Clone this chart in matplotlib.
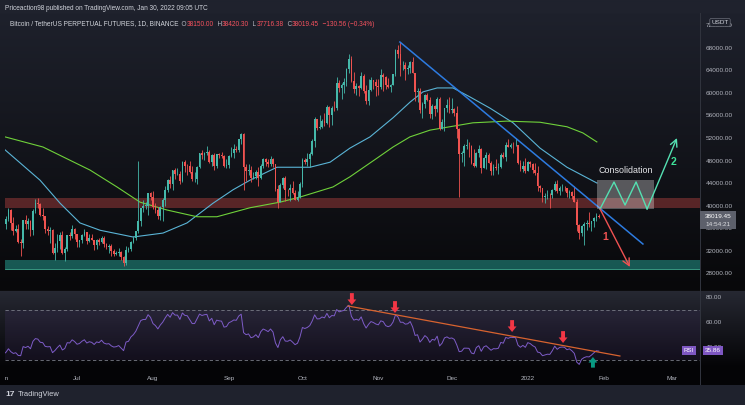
import datetime as dt
import numpy as np
import matplotlib
matplotlib.use("Agg")
import matplotlib.pyplot as plt
from matplotlib.patches import Rectangle

plt.rcParams['font.family'] = ['Liberation Sans', 'DejaVu Sans']

W, H = 745, 405
start = dt.date(2021, 6, 1)

# May 2021 closes (only used to warm up the RSI), thousands USDT
may_close = [57.8, 56.6, 57.2, 53.2, 57.5, 56.4, 57.4, 58.9, 58.3, 55.9, 56.7,
             49.2, 49.7, 49.9, 46.8, 46.4, 43.6, 42.9, 37.0, 40.7, 37.3, 37.5,
             34.7, 38.8, 38.4, 39.3, 38.5, 35.7, 34.6, 35.7, 37.3]

# daily candles (close, high, low) in thousands, open = previous close
jun = [(36.7, 37.9, 35.7), (37.6, 38.2, 35.9), (39.2, 39.5, 37.2), (36.9, 39.3, 35.6), (35.5, 37.9, 34.8),
       (35.8, 36.5, 35.3), (33.6, 36.8, 33.4), (33.4, 34.1, 31.0), (37.4, 37.5, 32.4), (36.7, 38.4, 35.8),
       (37.3, 37.7, 35.9), (35.6, 37.5, 34.6), (39.1, 39.3, 34.8), (40.5, 41.1, 38.7), (40.2, 41.3, 39.5),
       (38.3, 40.5, 38.1), (38.1, 39.6, 37.4), (35.8, 38.2, 35.1), (35.5, 36.4, 34.8), (35.6, 36.1, 33.4),
       (31.6, 35.8, 31.3), (32.5, 33.3, 30.4), (33.7, 34.9, 31.7), (34.7, 35.3, 32.3), (31.6, 35.5, 31.3),
       (32.2, 32.7, 30.2), (34.7, 34.7, 32.0), (34.5, 35.3, 33.9), (35.9, 36.6, 34.2), (35.0, 36.0, 34.1)]
jul = [(33.5, 35.0, 32.7), (33.8, 33.9, 32.7), (34.7, 34.9, 33.3), (35.3, 35.9, 34.5), (33.7, 35.3, 33.2),
       (34.2, 35.0, 33.5), (33.9, 35.0, 33.8), (32.9, 33.9, 32.1), (33.8, 34.1, 32.3), (33.5, 34.3, 33.0),
       (34.3, 34.6, 33.3), (33.1, 34.6, 32.7), (32.7, 33.3, 32.2), (32.8, 33.1, 31.6), (31.9, 33.2, 31.1),
       (31.4, 32.2, 31.0), (31.5, 32.0, 31.2), (31.8, 32.4, 31.1), (30.8, 31.9, 30.4), (29.8, 31.0, 29.3),
       (32.1, 32.8, 29.5), (32.3, 32.6, 31.7), (33.6, 33.7, 32.0), (34.3, 34.5, 33.4), (35.4, 35.4, 33.9),
       (37.3, 48.0, 35.2), (39.5, 39.6, 36.4), (40.0, 40.9, 38.8), (40.0, 40.6, 39.3), (42.2, 42.3, 38.3),
       (41.5, 42.4, 41.0)]
aug = [(39.8, 42.6, 39.4), (39.2, 40.5, 38.7), (38.2, 39.8, 37.6), (39.7, 39.9, 37.5), (40.9, 41.4, 37.3),
       (42.8, 43.4, 39.9), (44.6, 44.7, 42.4), (43.8, 45.3, 43.2), (46.3, 46.4, 42.8), (45.6, 46.7, 44.8),
       (45.6, 46.7, 45.4), (44.4, 46.2, 43.8), (47.8, 47.9, 44.2), (47.1, 48.1, 45.9), (47.0, 47.4, 45.5),
       (45.9, 48.0, 45.7), (44.7, 47.1, 44.4), (44.7, 46.0, 44.2), (46.8, 47.0, 43.9), (49.3, 49.4, 46.6),
       (48.9, 49.8, 48.3), (49.3, 49.5, 48.1), (49.5, 50.5, 49.0), (47.7, 49.9, 47.6), (48.9, 49.2, 47.1),
       (47.0, 49.3, 46.4), (49.1, 49.2, 46.7), (48.9, 49.3, 48.4), (48.8, 49.6, 48.4), (47.0, 48.9, 46.9),
       (47.2, 48.2, 46.7)]
sep = [(48.8, 49.0, 46.6), (49.3, 50.4, 48.6), (50.0, 51.0, 48.5), (49.9, 50.5, 49.5), (51.8, 51.9, 49.5),
       (52.7, 52.9, 50.9), (46.9, 52.9, 42.8), (46.1, 47.3, 44.4), (46.4, 47.4, 45.5), (44.9, 47.1, 44.2),
       (45.2, 45.9, 44.8), (46.0, 46.4, 44.8), (44.9, 46.9, 43.4), (47.1, 47.3, 44.7), (48.2, 48.5, 46.7),
       (47.8, 48.5, 47.0), (47.3, 48.2, 46.9), (48.3, 48.8, 47.1), (47.3, 48.4, 46.9), (43.0, 47.4, 42.5),
       (40.7, 43.6, 39.6), (43.6, 44.0, 40.6), (44.9, 45.0, 43.1), (42.8, 45.2, 40.8), (42.7, 42.9, 41.7),
       (43.2, 43.9, 40.8), (42.2, 44.4, 42.1), (41.0, 42.8, 40.9), (41.5, 42.6, 40.8), (43.8, 44.1, 41.4)]
oct_ = [(48.1, 48.4, 43.3), (47.7, 48.4, 47.4), (48.2, 49.3, 47.1), (49.1, 49.5, 46.9), (51.5, 51.9, 49.0),
        (55.3, 55.8, 50.4), (53.8, 55.3, 53.4), (53.9, 56.1, 53.6), (55.0, 55.4, 53.7), (54.7, 56.5, 54.1),
        (57.5, 57.8, 54.4), (56.0, 57.6, 54.0), (57.4, 57.6, 54.3), (57.3, 58.5, 56.8), (61.7, 62.9, 56.9),
        (60.9, 62.3, 60.1), (61.5, 61.8, 58.9), (62.0, 62.6, 60.0), (64.3, 64.5, 61.3), (66.0, 67.0, 63.5),
        (62.2, 66.6, 62.0), (60.7, 63.7, 60.0), (61.3, 61.7, 59.7), (60.9, 61.5, 59.5), (63.0, 63.7, 60.7),
        (60.4, 63.3, 60.0), (58.5, 61.5, 58.0), (60.6, 62.5, 57.9), (62.3, 62.9, 60.3), (61.9, 62.3, 60.7),
        (61.3, 62.4, 59.4)]
nov = [(61.0, 62.4, 59.6), (63.2, 64.3, 60.7), (62.9, 63.5, 60.4), (61.4, 63.1, 60.7), (61.0, 62.6, 60.8),
       (61.5, 61.6, 60.1), (63.3, 63.3, 61.4), (67.6, 67.8, 63.1), (66.9, 68.5, 66.3), (64.9, 69.0, 63.0),
       (64.9, 65.6, 64.1), (64.2, 65.5, 62.3), (64.4, 65.0, 63.4), (65.5, 65.6, 63.6), (63.6, 66.4, 63.5),
       (60.1, 63.6, 58.6), (60.4, 60.8, 58.4), (56.9, 60.9, 56.5), (58.1, 58.4, 55.6), (59.7, 59.9, 57.4),
       (58.7, 60.0, 58.5), (56.3, 59.3, 55.6), (57.6, 58.0, 55.3), (57.2, 57.8, 55.9), (58.9, 59.3, 56.7),
       (53.6, 59.2, 53.5), (54.8, 55.3, 53.6), (57.3, 57.4, 53.3), (57.8, 58.9, 56.7), (57.0, 59.2, 56.4)]
dec = [(57.2, 59.1, 56.5), (56.5, 57.4, 55.9), (53.6, 57.6, 52.0), (49.2, 53.8, 41.5), (49.4, 49.7, 47.8),
       (50.6, 51.0, 47.1), (50.6, 51.9, 50.0), (50.5, 51.2, 48.6), (47.6, 50.8, 47.3), (47.1, 50.0, 46.9),
       (49.4, 49.5, 46.9), (50.1, 50.8, 48.6), (46.7, 50.2, 45.7), (48.4, 48.7, 46.6), (48.9, 49.5, 46.5),
       (47.6, 49.4, 47.5), (46.2, 47.9, 45.4), (46.8, 47.3, 45.5), (46.7, 48.3, 46.4), (46.9, 47.5, 45.6),
       (49.0, 49.3, 46.6), (48.6, 49.6, 48.4), (50.8, 51.3, 48.0), (50.4, 51.8, 50.4), (50.8, 51.1, 50.2),
       (50.7, 51.3, 49.4), (50.7, 52.0, 50.5), (47.5, 50.7, 47.3), (46.5, 48.1, 46.1), (47.1, 47.9, 45.9),
       (46.2, 48.5, 45.7)]
jan = [(47.7, 47.9, 46.2), (47.3, 47.9, 46.9), (46.4, 47.5, 45.7), (45.8, 47.5, 45.5), (43.4, 47.0, 42.5),
       (43.1, 43.7, 42.4), (41.5, 43.1, 40.6), (41.7, 42.3, 40.5), (41.9, 42.8, 41.2), (41.8, 42.2, 39.6),
       (42.7, 43.0, 41.3), (43.9, 44.3, 42.5), (42.6, 44.5, 42.3), (43.1, 43.4, 41.9), (43.2, 43.8, 42.6),
       (43.1, 43.5, 42.6), (42.2, 43.2, 41.6), (42.4, 42.7, 41.3), (41.7, 42.6, 41.1), (40.7, 43.5, 40.6),
       (36.5, 41.1, 35.5), (35.1, 36.8, 34.0), (36.3, 36.5, 34.6), (36.7, 37.0, 33.0), (36.9, 37.5, 35.7),
       (36.8, 38.9, 36.2), (37.2, 37.3, 35.5), (37.7, 38.0, 36.2), (38.15, 38.7, 37.3), (38.01945, 38.4203, 37.71638)]

# moving averages: (day since Jun 1, price in thousands)
ma_fast = [(0.6, 49.9), (6.7, 47.6), (14.9, 44.5), (23.1, 40.4), (31.2, 36.9), (39.4, 35.6),
           (52.9, 34.4), (65.1, 35.1), (74.9, 36.9), (85.5, 40.4), (93.7, 42.8), (100.6, 44.5),
           (111.6, 46.8), (125.1, 46.8), (133.3, 47.7), (141.4, 50.2), (149.6, 52.2), (159.0, 55.6),
           (166.0, 58.4), (171.2, 60.2), (177.0, 60.9), (183.5, 60.9), (190.4, 59.3), (198.6, 57.3),
           (208.0, 54.7), (219.0, 50.2), (230.0, 46.8), (242.2, 44.0)]
ma_slow = [(0.6, 52.2), (16.1, 50.4), (35.3, 46.3), (46.3, 43.3), (55.7, 40.6), (66.7, 39.2),
           (79.0, 38.0), (87.1, 38.0), (100.6, 39.6), (112.9, 40.6), (121.0, 41.5), (134.5, 43.3),
           (141.4, 45.1), (152.4, 48.4), (159.0, 50.4), (165.9, 52.2), (174.1, 53.4), (182.2, 54.0),
           (191.6, 54.7), (205.5, 55.0), (219.0, 54.8), (230.0, 54.0), (236.5, 52.9), (242.2, 51.3)]

# zones and drawings (price in USDT, x in days since Jun 1)
red_zone = (39560, 41330)
green_zone = (28710, 30310)
trend_main = [(161.8, 69067), (261.0, 33156)]
bear_path = [(243.5, 39378), (255.7, 29067)]
bull_path = [(243.5, 39378), (249.2, 44178), (253.7, 40089), (258.2, 44178), (262.7, 39378)]
bull_target = (274.9, 52000)
consol_box = (242.2, 265.5, 39378, 44533)
rsi_trend = [(140.6, 72.8), (251.6, 32.8)]
rsi_sell_days = [142.2, 159.8, 207.6, 228.4]
rsi_sell_tips = [73.6, 67.2, 52.0, 43.2]
rsi_buy = (240.6, 32.0)
rsi_len = 20

price_ticks = list(range(28000, 72001, 4000))
rsi_ticks = [40, 60, 80]
month_labels = [(dt.date(2021, 6, 1), 'Jun'), (dt.date(2021, 7, 1), 'Jul'), (dt.date(2021, 8, 1), 'Aug'),
                (dt.date(2021, 9, 1), 'Sep'), (dt.date(2021, 10, 1), 'Oct'), (dt.date(2021, 11, 1), 'Nov'),
                (dt.date(2021, 12, 1), 'Dec'), (dt.date(2022, 1, 1), '2022'), (dt.date(2022, 2, 1), 'Feb'),
                (dt.date(2022, 3, 1), 'Mar')]

rows = jun + jul + aug + sep + oct_ + nov + dec + jan
close = np.array([r[0] for r in rows]) * 1000
high = np.array([r[1] for r in rows]) * 1000
low = np.array([r[2] for r in rows]) * 1000
opn = np.r_[may_close[-1] * 1000, close[:-1]]
days = np.arange(len(close))

# RSI (Wilder smoothing)
allc = np.r_[np.array(may_close) * 1000, close]
delta = np.diff(allc)
gain = np.clip(delta, 0, None)
loss = np.clip(-delta, 0, None)
n = rsi_len
ag, al = gain[:n].mean(), loss[:n].mean()
rsi_all = np.full(len(allc), np.nan)
rsi_all[n] = 100 - 100 / (1 + ag / al)
for i in range(n, len(delta)):
    ag = (ag * (n - 1) + gain[i]) / n
    al = (al * (n - 1) + loss[i]) / n
    rsi_all[i + 1] = 100 - 100 / (1 + ag / al)
rsi = rsi_all[len(may_close):]

UP, DOWN = '#45b8aa', '#f05350'
TXT = '#b2b5be'
XLIM = (0.6, 284.3)

fig = plt.figure(figsize=(W / 100, H / 100), dpi=100)

# background with TradingView-like gradients
bg = fig.add_axes([0, 0, 1, 1])
bg.axis('off')
img = np.zeros((H, W, 3))


def grad(a, b, c0, c1):
    t = np.linspace(0, 1, b - a)[:, None]
    img[a:b] = (np.array(c0) * (1 - t) + np.array(c1) * t)[:, None, :]


grad(0, 13, (31, 34, 45), (31, 34, 45))
grad(13, 290, (30, 33, 44), (8, 8, 10))
grad(290, 291, (12, 12, 14), (12, 12, 14))
grad(291, 368, (38, 40, 50), (4, 4, 6))
grad(368, 385, (4, 4, 6), (4, 4, 6))
grad(385, 405, (31, 34, 45), (31, 34, 45))
img[13:385, 700] = (48, 51, 61)
bg.imshow(img / 255, extent=(0, W, H, 0), aspect='auto', interpolation='nearest')
bg.set_xlim(0, W)
bg.set_ylim(H, 0)


def fx(px):
    return px / W


def fy(py):
    return 1 - py / H


# main price pane
ax = fig.add_axes([fx(5), fy(290), 695 / W, 277 / H])
ax.set_facecolor('none')
for s in ax.spines.values():
    s.set_visible(False)
ax.set_xlim(*XLIM)
ax.set_ylim(24978, 74222)
ax.set_xticks([])
ax.yaxis.tick_right()
ax.set_yticks(price_ticks)
ax.set_yticklabels([f'{v:.2f}' for v in price_ticks])
ax.tick_params(axis='y', length=0, pad=4, labelsize=4.6, labelcolor=TXT)

ax.axhspan(*red_zone, color='#ef5350', alpha=0.33, lw=0, zorder=1)
ax.axhspan(*green_zone, color='#26a69a', alpha=0.5, lw=0, zorder=1)
ax.axhline(green_zone[0], color='#3fae94', lw=0.6, zorder=1)

fd, fp = zip(*ma_fast)
sd, sp = zip(*ma_slow)
ax.plot(fd, np.array(fp) * 1000, color='#5ab4d6', lw=0.8, zorder=2)
ax.plot(sd, np.array(sp) * 1000, color='#6fd13a', lw=0.8, zorder=2)

col = np.where(close >= opn, UP, DOWN)
ax.vlines(days, low, high, colors=col, lw=0.6, zorder=3)
ax.bar(days, np.maximum(np.abs(close - opn), 80), bottom=np.minimum(opn, close),
       width=0.7, color=col, lw=0, zorder=3)

tx_, ty_ = zip(*trend_main)
ax.plot(tx_, ty_, color='#2d7be0', lw=1.1, zorder=4)

# consolidation scenario
bx0, bx1, by0, by1 = consol_box
ax.add_patch(Rectangle((bx0, by0), bx1 - bx0, by1 - by0, facecolor='white', alpha=0.3,
                       lw=0, zorder=4))
ax.text((bx0 + bx1) / 2, 46300, 'Consolidation', color='#e6e7ea', fontsize=6.4,
        ha='center', va='center', zorder=6)
zx, zy = zip(*bull_path)
ax.plot(zx, zy, color='#55e0b2', lw=1.0, zorder=5)
ax.annotate('', xy=bull_target, xytext=bull_path[-1],
            arrowprops=dict(arrowstyle='->,head_length=0.5,head_width=0.25', color='#55e0b2',
                            lw=1.0, shrinkA=0, shrinkB=0), zorder=5)
ax.text(273.3, 47700, '2', color='#3ee39a', fontsize=7.5, fontweight='bold',
        ha='center', va='center', zorder=6)
ax.annotate('', xy=bear_path[1], xytext=bear_path[0],
            arrowprops=dict(arrowstyle='->,head_length=0.5,head_width=0.25', color='#f05252',
                            lw=1.0, shrinkA=0, shrinkB=0), zorder=5)
ax.text(245.6, 34400, '1', color='#f05252', fontsize=7.5, fontweight='bold',
        ha='center', va='center', zorder=6)

# RSI pane
rx = fig.add_axes([fx(5), fy(368), 695 / W, 77 / H])
rx.set_facecolor('none')
for s in rx.spines.values():
    s.set_visible(False)
rx.set_xlim(*XLIM)
rx.set_ylim(23.2, 84.8)
rx.set_xticks([])
rx.yaxis.tick_right()
rx.set_yticks(rsi_ticks)
rx.set_yticklabels([f'{v:.2f}' for v in rsi_ticks])
rx.tick_params(axis='y', length=0, pad=4, labelsize=4.6, labelcolor=TXT)
rx.axhspan(30, 70, color='#7e57c2', alpha=0.1, lw=0)
for lvl in (30, 70):
    rx.axhline(lvl, color='#787b86', lw=0.6, ls=(0, (4, 3)))
rx.plot(days, rsi, color='#7e5cc8', lw=0.7, zorder=3)
ttx, tty = zip(*rsi_trend)
rx.plot(ttx, tty, color='#d8632f', lw=0.9, zorder=4)
arrow_style = 'simple,head_length=0.5,head_width=0.8,tail_width=0.35'
for d, tip in zip(rsi_sell_days, rsi_sell_tips):
    rx.annotate('', xy=(d, tip), xytext=(d, tip + 9.5),
                arrowprops=dict(arrowstyle=arrow_style, fc='#f23645', ec='none',
                                shrinkA=0, shrinkB=0, mutation_scale=8), zorder=5)
rx.annotate('', xy=rsi_buy, xytext=(rsi_buy[0], rsi_buy[1] - 8.5),
            arrowprops=dict(arrowstyle=arrow_style, fc='#089981', ec='none',
                            shrinkA=0, shrinkB=0, mutation_scale=8), zorder=5, annotation_clip=False)

# time axis
tx = fig.add_axes([fx(5), fy(385), 695 / W, 17 / H])
tx.axis('off')
tx.set_xlim(*XLIM)
tx.set_ylim(0, 1)
for d, lab in month_labels:
    tx.text((d - start).days, 0.4, lab, color=TXT, fontsize=4.6, ha='center', va='center',
            clip_on=True)

# right-hand labels
fig.patches.append(Rectangle((fx(700), fy(229)), 36 / W, 18 / H, transform=fig.transFigure,
                             facecolor='#5d606b', edgecolor='none', zorder=10))
fig.text(fx(718), fy(216.5), '38019.45', color='white', fontsize=4.6, ha='center', va='center', zorder=11)
fig.text(fx(718), fy(224.5), '14:54:21', color='#dcdde0', fontsize=4.6, ha='center', va='center', zorder=11)
fig.text(fx(689), fy(350.5), 'RSI', color='white', fontsize=4.4, ha='center', va='center', zorder=11,
         bbox=dict(boxstyle='square,pad=0.25', fc='#7e57c2', ec='none'))
fig.text(fx(713), fy(350.5), '35.86', color='white', fontsize=4.6, ha='center', va='center', zorder=11,
         bbox=dict(boxstyle='square,pad=0.3', fc='#7e57c2', ec='none'))
fig.text(fx(720), fy(22.5), 'USDT', color='#d1d4dc', fontsize=4.6, ha='center', va='center', zorder=11,
         bbox=dict(boxstyle='round,pad=0.25', fc='#1f222d', ec='#6a6d78', lw=0.5))

# header
fig.text(fx(5), fy(8), 'Priceaction98 published on TradingView.com, Jan 30, 2022 09:05 UTC',
         color='#d1d4dc', fontsize=4.7, ha='left', va='center')
RED = '#f7525f'
pieces = [('Bitcoin / TetherUS PERPETUAL FUTURES, 1D, BINANCE', '#d1d4dc'), ('  O', TXT),
          ('38150.00', RED), ('  H', TXT), ('38420.30', RED), ('  L', TXT), ('37716.38', RED),
          ('  C', TXT), ('38019.45', RED), ('  \u2212130.56 (\u22120.34%)', RED)]
r = fig.canvas.get_renderer()
xpos = 10
for txt, c in pieces:
    t = fig.text(fx(xpos), fy(24), txt, color=c, fontsize=4.7, ha='left', va='center')
    xpos = t.get_window_extent(r).x1

# footer
fig.text(fx(5), fy(395), '17', color='#d1d4dc', fontsize=6, fontweight='bold', ha='left', va='center')
fig.text(fx(18), fy(395), 'TradingView', color='#d1d4dc', fontsize=5.4, ha='left', va='center')

fig.savefig('out.png', dpi=100)
